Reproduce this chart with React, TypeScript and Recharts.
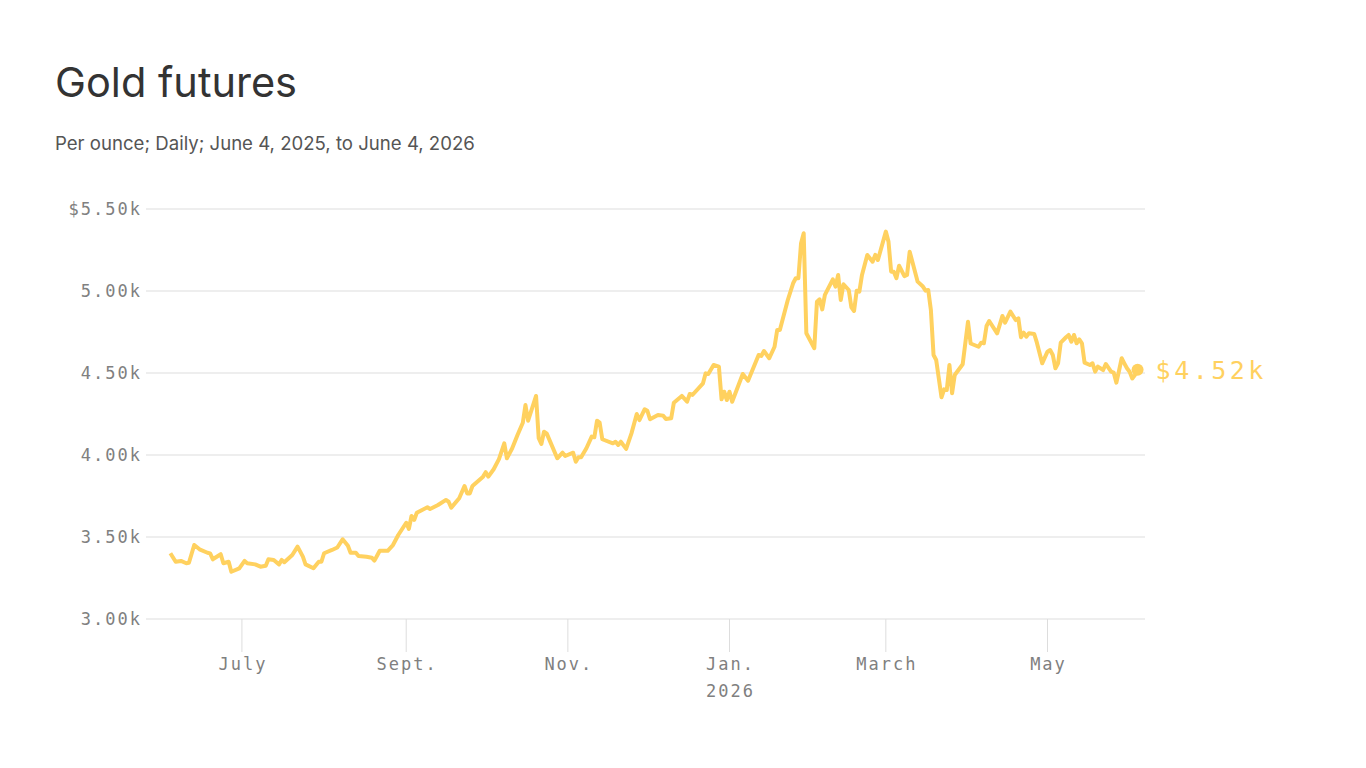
import React from 'react';
import { LineChart, Line, XAxis, YAxis, CartesianGrid } from 'recharts';

const dates: string[] = [
  '2025-06-04','2025-06-06','2025-06-08','2025-06-10','2025-06-11','2025-06-13','2025-06-15','2025-06-18','2025-06-19','2025-06-20',
  '2025-06-23','2025-06-24','2025-06-26','2025-06-27','2025-06-30','2025-07-02','2025-07-03','2025-07-06','2025-07-08','2025-07-10',
  '2025-07-11','2025-07-13','2025-07-15','2025-07-16','2025-07-17','2025-07-20','2025-07-22','2025-07-24','2025-07-25','2025-07-28',
  '2025-07-30','2025-07-31','2025-08-01','2025-08-04','2025-08-06','2025-08-08','2025-08-10','2025-08-11','2025-08-13','2025-08-14',
  '2025-08-17','2025-08-19','2025-08-20','2025-08-21','2025-08-22','2025-08-25','2025-08-27','2025-08-29','2025-09-01','2025-09-02',
  '2025-09-03','2025-09-04','2025-09-05','2025-09-07','2025-09-09','2025-09-10','2025-09-13','2025-09-16','2025-09-17','2025-09-18',
  '2025-09-21','2025-09-23','2025-09-24','2025-09-25','2025-09-26','2025-09-30','2025-10-01','2025-10-02','2025-10-04','2025-10-06',
  '2025-10-08','2025-10-09','2025-10-11','2025-10-13','2025-10-15','2025-10-16','2025-10-17','2025-10-20','2025-10-21','2025-10-22',
  '2025-10-23','2025-10-24','2025-10-28','2025-10-30','2025-10-31','2025-11-03','2025-11-04','2025-11-05','2025-11-06','2025-11-08',
  '2025-11-10','2025-11-11','2025-11-12','2025-11-13','2025-11-14','2025-11-18','2025-11-19','2025-11-20','2025-11-21','2025-11-23',
  '2025-11-25','2025-11-27','2025-11-28','2025-11-30','2025-12-01','2025-12-02','2025-12-05','2025-12-07','2025-12-08','2025-12-10',
  '2025-12-11','2025-12-14','2025-12-16','2025-12-17','2025-12-18','2025-12-22','2025-12-23','2025-12-24','2025-12-26','2025-12-28',
  '2025-12-29','2025-12-30','2025-12-31','2026-01-01','2026-01-02','2026-01-06','2026-01-08','2026-01-12','2026-01-13','2026-01-14',
  '2026-01-16','2026-01-18','2026-01-19','2026-01-20','2026-01-23','2026-01-25','2026-01-26','2026-01-27','2026-01-28','2026-01-29',
  '2026-01-30','2026-02-02','2026-02-03','2026-02-04','2026-02-05','2026-02-06','2026-02-09','2026-02-10','2026-02-11','2026-02-12',
  '2026-02-13','2026-02-15','2026-02-16','2026-02-17','2026-02-18','2026-02-19','2026-02-20','2026-02-22','2026-02-24','2026-02-25',
  '2026-02-26','2026-03-01','2026-03-02','2026-03-03','2026-03-04','2026-03-05','2026-03-06','2026-03-08','2026-03-09','2026-03-10',
  '2026-03-13','2026-03-15','2026-03-16','2026-03-17','2026-03-18','2026-03-19','2026-03-20','2026-03-22','2026-03-23','2026-03-24',
  '2026-03-25','2026-03-26','2026-03-27','2026-03-30','2026-04-01','2026-04-02','2026-04-05','2026-04-06','2026-04-07','2026-04-08',
  '2026-04-09','2026-04-12','2026-04-14','2026-04-15','2026-04-17','2026-04-19','2026-04-20','2026-04-21','2026-04-22','2026-04-23',
  '2026-04-24','2026-04-26','2026-04-27','2026-04-29','2026-05-01','2026-05-02','2026-05-03','2026-05-04','2026-05-05','2026-05-06',
  '2026-05-08','2026-05-09','2026-05-10','2026-05-11','2026-05-12','2026-05-13','2026-05-14','2026-05-15','2026-05-17','2026-05-18',
  '2026-05-19','2026-05-20','2026-05-22','2026-05-23','2026-05-25','2026-05-26','2026-05-27','2026-05-28','2026-05-29','2026-05-30',
  '2026-05-31','2026-06-01','2026-06-02','2026-06-03','2026-06-04',
];

const prices: number[] = [
  3401,3349,3354,3340,3343,3451,3425,3404,3400,3364,
  3395,3340,3349,3288,3309,3354,3340,3333,3319,3325,
  3364,3360,3333,3360,3346,3390,3441,3380,3333,3309,
  3349,3349,3401,3421,3436,3486,3447,3404,3404,3384,
  3380,3374,3356,3386,3416,3416,3451,3512,3587,3549,
  3628,3604,3648,3665,3681,3671,3695,3726,3715,3679,
  3736,3811,3766,3766,3811,3868,3895,3868,3913,3975,
  4071,3980,4041,4122,4197,4305,4209,4360,4102,4067,
  4142,4132,3980,4014,3994,4014,3959,3986,3986,4041,
  4112,4108,4209,4197,4096,4071,4081,4061,4081,4037,
  4132,4250,4213,4279,4270,4218,4244,4240,4220,4224,
  4319,4360,4325,4372,4366,4437,4498,4494,4549,4539,
  4340,4386,4335,4386,4325,4494,4453,4610,4604,4634,
  4590,4660,4762,4762,4945,5047,5078,5078,5291,5352,
  4742,4651,4935,4949,4888,4976,5071,5027,5098,4945,
  5041,5006,4900,4878,5002,4996,5098,5220,5179,5220,
  5189,5362,5301,5118,5118,5078,5154,5091,5098,5240,
  5057,5027,5002,5006,4884,4610,4579,4352,4400,4396,
  4549,4376,4488,4553,4813,4680,4660,4685,4681,4787,
  4817,4742,4848,4807,4874,4823,4833,4718,4746,4721,
  4742,4738,4685,4559,4630,4640,4610,4529,4559,4685,
  4718,4732,4691,4732,4681,4705,4681,4563,4549,4559,
  4508,4539,4518,4555,4508,4502,4441,4514,4590,4559,
  4529,4508,4467,4488,4520,
];

const yTicks: number[] = [3000, 3500, 4000, 4500, 5000, 5500];
const yTickLabels: string[] = ['3.00k', '3.50k', '4.00k', '4.50k', '5.00k', '$5.50k'];
const xTickDates: string[] = ['2025-07-01', '2025-09-01', '2025-11-01', '2026-01-01', '2026-03-01', '2026-05-01'];
const xTickLabels: string[] = ['July', 'Sept.', 'Nov.', 'Jan.', 'March', 'May'];
const xTickSubLabels: string[] = ['', '', '', '2026', '', ''];
const endLabel = '$4.52k';
const title = 'Gold futures';
const subtitle = 'Per ounce; Daily; June 4, 2025, to June 4, 2026';

const toTs = (s: string) => Date.parse(s + 'T00:00:00Z');
const DAY = 86400000;
const data = dates.map((d, i) => ({ t: toTs(d), price: prices[i] }));
const xTicks = xTickDates.map(toTs);
const xDomain = [data[0].t - 9.2 * DAY, data[data.length - 1].t + 2.8 * DAY];

const GOLD = '#FFD15F';
const MONO = '"DejaVu Sans Mono", "Liberation Mono", monospace';
const SANS = 'Inter, "Noto Sans", sans-serif';

const YTick = (props: any) => {
  const { x, y, payload } = props;
  const idx = yTicks.indexOf(payload.value);
  return (
    <text x={x - 4} y={y + 6} textAnchor="end" fill="#808080" fontFamily={MONO} fontSize={17} letterSpacing={2}>
      {yTickLabels[idx]}
    </text>
  );
};

const XTick = (props: any) => {
  const { x, y, payload } = props;
  const idx = xTicks.indexOf(payload.value);
  return (
    <g>
      <line x1={x} x2={x} y1={y} y2={y + 33} stroke="#dddddd" strokeWidth={1} />
      <text x={x + 1} y={y + 51} textAnchor="middle" fill="#808080" fontFamily={MONO} fontSize={17} letterSpacing={2}>
        {xTickLabels[idx]}
      </text>
      {xTickSubLabels[idx] ? (
        <text x={x + 1} y={y + 78} textAnchor="middle" fill="#808080" fontFamily={MONO} fontSize={17} letterSpacing={2}>
          {xTickSubLabels[idx]}
        </text>
      ) : null}
    </g>
  );
};

const EndDot = (props: any) => {
  const { cx, cy, index } = props;
  if (index !== data.length - 1) return <g key={'d' + index} />;
  return (
    <g key="end">
      <circle cx={cx} cy={cy} r={6} fill={GOLD} />
      <text x={cx + 18} y={cy + 9} fill={GOLD} fontFamily={MONO} fontSize={25} letterSpacing={3.5}>
        {endLabel}
      </text>
    </g>
  );
};

export default function App() {
  return (
    <div style={{ position: 'absolute', left: 0, top: 0, width: 1366, height: 768, background: '#fff' }}>
      <svg width={1366} height={170} style={{ position: 'absolute', left: 0, top: 0 }}>
        <text x={55} y={97} fill="#333333" fontFamily={SANS} fontSize={41.5} fontWeight={400}>
          {title}
        </text>
        <text x={55} y={150} fill="#555555" fontFamily={SANS} fontSize={18.6}>
          {subtitle}
        </text>
      </svg>
      <div style={{ position: 'absolute', left: 0, top: 0 }}>
        <LineChart
          width={1366}
          height={768}
          data={data}
          margin={{ top: 209, right: 221, bottom: 89, left: 46 }}
        >
          <CartesianGrid vertical={false} stroke="#dddddd" strokeWidth={1} />
          <XAxis
            dataKey="t"
            type="number"
            scale="time"
            domain={xDomain}
            ticks={xTicks}
            tick={<XTick />}
            tickLine={false}
            tickSize={0}
            tickMargin={0}
            axisLine={false}
            height={60}
            interval={0}
          />
          <YAxis
            type="number"
            domain={[3000, 5500]}
            ticks={yTicks}
            tick={<YTick />}
            tickLine={false}
            tickSize={0}
            tickMargin={0}
            axisLine={false}
            width={100}
            interval={0}
          />
          <Line
            dataKey="price"
            type="linear"
            stroke={GOLD}
            strokeWidth={4}
            strokeLinejoin="round"
            dot={EndDot}
            activeDot={false}
            isAnimationActive={false}
          />
        </LineChart>
      </div>
    </div>
  );
}
